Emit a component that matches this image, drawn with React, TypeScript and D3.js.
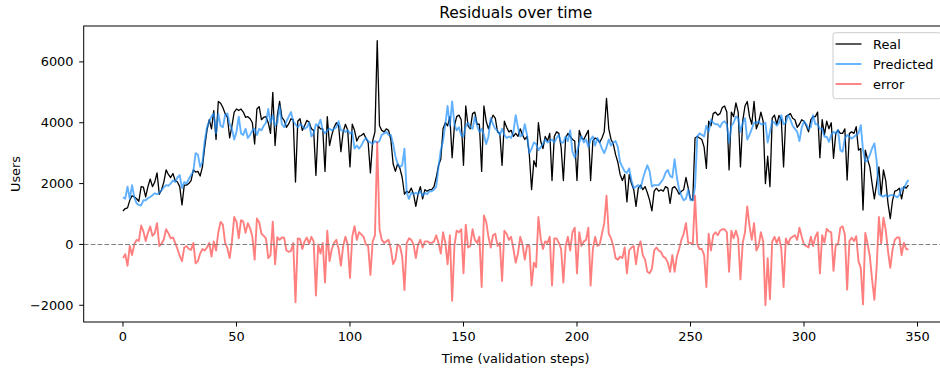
import React from 'react';
import * as d3 from 'd3';

// Values (validation step 0..346)
const realUsers: number[] = [
  1100, 1180, 1200, 1450, 1600, 1560, 1500, 1420, 1900, 1880,
  1560, 1900, 2150, 1900, 2050, 2350, 1650, 1800, 2050, 2450,
  2300, 2200, 2330, 2100, 2050, 1900, 1300, 1950, 1950, 2000,
  2100, 2450, 2380, 2400, 2250, 2550, 3200, 3750, 4100, 3800,
  4400, 3450, 4700, 4640, 4500, 4300, 4180, 3500, 3900, 4350,
  4450, 4400, 4450, 4350, 4180, 4200, 4130, 4000, 3300, 4450,
  4530, 4100, 4180, 4200, 4000, 3650, 5000, 3250, 4240, 4700,
  4180, 4075, 3850, 3960, 4130, 4100, 2050, 4050, 4130, 3750,
  3900, 4075, 4020, 3800, 3750, 2270, 3900, 3800, 3800, 2400,
  4200, 3250, 3600, 3850, 4000, 3900, 3050, 3700, 3950, 3750,
  2550, 3950, 3750, 3400, 3550, 3580, 3650, 3500, 3350, 2350,
  3400, 3700, 6700, 3900, 3750, 3700, 3800, 3750, 3450, 2650,
  2400, 2650, 2500, 2200, 1650, 1750, 1700, 1850, 1650, 1250,
  1650, 1900, 1500, 1800, 1750, 1800, 1800, 1900, 2200, 2600,
  2800, 3800, 4000, 3900, 4200, 2850, 3900, 4200, 4250, 4100,
  2600, 4550, 3900, 3800, 4300, 4350, 3950, 3950, 2400, 4550,
  4050, 3800, 4050, 4250, 4150, 3700, 3650, 2600, 4050, 3850,
  3700, 3750, 3550, 3650, 3550, 3800, 3600, 3450, 3550, 2950,
  1800, 2750, 2550, 4000, 3400, 3150, 3550, 3400, 3650, 2100,
  3550, 3700, 3650, 3200, 2100, 3500, 3650, 3550, 3450, 3400,
  2100, 3750, 3500, 3450, 3600, 3750, 2100, 3400, 3500, 3450,
  3350, 3500, 3700, 4800, 3800, 3450, 3300, 2950, 2700, 2300,
  2100, 2300, 1400, 2300, 2000, 1800, 1250, 1850, 1950, 1800,
  1900, 1700, 1450, 1100, 1750, 1850, 1750, 1800, 1750, 1900,
  1850, 1350, 1850, 1900, 1800, 1650, 1750, 1800, 2200, 1850,
  1500, 1450, 3500, 3550, 3500, 3450, 3200, 2500, 4050, 3900,
  4300, 4350, 4250, 4300, 4500, 4550, 4350, 2450, 4350, 4200,
  4650, 4350, 2550, 4050, 4550, 4700, 4200, 3950, 4700, 3800,
  4000, 4350, 4050, 2000, 2900, 1900, 4150, 4250, 3950, 4240,
  4100, 2550, 4200, 4250, 4300, 4150, 4100, 3850, 3950, 4100,
  4050, 3900, 3700, 4100, 4200, 4200, 4350, 2850, 4100, 3600,
  4050, 3800, 4000, 2830, 3650, 3760, 3650, 3650, 3800, 2115,
  3650, 3700, 3650, 3870, 3100, 3150, 1130, 3100, 2800, 2550,
  2000, 1500, 2000, 2550, 1620, 2450, 2100, 1350, 850, 1450,
  1750, 1780, 1850, 1500, 1900, 1850, 1950,
];

const predictedUsers: number[] = [
  1550, 1500, 1900, 1500, 1950, 1550, 1350, 1300, 1280, 1450,
  1450, 1520, 1560, 1620, 1680, 1650, 1700, 1780, 1880, 1950,
  1930, 2000, 2100, 2050, 2200, 2280, 1850, 2050, 2000, 2150,
  2280, 2400, 3000, 2950, 2550, 2700, 3400, 3850, 4050, 4200,
  4300, 3650, 4300, 3900, 3850, 4250, 4300, 3950, 3800, 3450,
  3700, 4200, 3650, 3600, 3800, 3500, 3600, 3750, 3800, 3600,
  3800, 3750, 3900, 4000, 4450, 4000, 4250, 3900, 4000, 4550,
  3950, 3850, 4050, 4200, 4350, 4050, 3950, 3850, 3950, 3900,
  3800, 3850, 4000, 3550, 3650, 3950, 3900, 4100, 3750, 3650,
  3750, 3800, 3750, 3800, 3850, 4050, 3750, 3750, 3700, 3750,
  3650, 3700, 3150, 3250, 3150, 3250, 3400, 3500, 3400, 3350,
  3300, 3400, 3350, 3400, 3600, 3650, 3700, 3600, 3600, 3300,
  2900, 2650, 2550, 2600, 3150, 1700, 1500, 1700, 1650, 1700,
  1650, 1750, 1600, 1700, 1650, 1750, 1750, 1800, 1900, 2550,
  3100, 3400, 3950, 4550, 3900, 4700, 3950, 3750, 3850, 3600,
  3550, 3900, 4000, 3850, 3800, 4200, 3900, 3700, 3800, 3600,
  3300, 3550, 4150, 3950, 3800, 3750, 3600, 3800, 3600, 3500,
  3550, 3500, 3700, 4250, 3850, 3550, 3600, 3950, 3600, 3000,
  3150, 3350, 3300, 3100, 3200, 3300, 3450, 3350, 3400, 3450,
  3350, 3500, 3600, 3350, 3350, 3550, 3400, 3750, 3050, 2850,
  3050, 3350, 3550, 3350, 3450, 3200, 3450, 3550, 3250, 3500,
  3350, 3150, 3000, 3200, 3450, 3250, 3350, 3400, 3200, 2700,
  2550, 2400, 2350, 2500, 2100, 1850, 1900, 1950, 1850, 2150,
  2400, 2600, 2400, 1900, 1950, 1950, 1950, 2050, 2150, 2350,
  2450, 2250, 2200, 2800, 2200, 1800, 1600, 1450, 1500, 1800,
  1450, 1450, 1900, 3550, 3650, 3600, 3550, 3900, 3700, 4100,
  4000, 3950, 3950, 3850, 4000, 4050, 3950, 3350, 3900, 4000,
  4200, 4150, 3700, 4000, 4150, 3450, 3600, 3800, 4000, 4000,
  4050, 3950, 3950, 4000, 3350, 3700, 4050, 4000, 3900, 4000,
  4250, 3950, 4000, 4250, 4100, 3900, 3800, 3700, 3400, 3850,
  4050, 3950, 3800, 3850, 4250, 3950, 3950, 3800, 3800, 3540,
  3540, 3370, 3600, 3700, 3650, 3760, 3100, 3050, 3480, 3600,
  3540, 3480, 3540, 3600, 3650, 3920, 3100, 2720, 2770, 2940,
  3160, 3320, 2750, 1650, 1600, 1570, 1620, 1570, 1620, 1620,
  1600, 1550, 1620, 1850, 1840, 2000, 2115,
];

const xTicks: number[] = [0, 50, 100, 150, 200, 250, 300, 350];
const yTicks: number[] = [-2000, 0, 2000, 4000, 6000];
const seriesNames: string[] = ['Real', 'Predicted', 'error'];

const W = 940;
const H = 369;
const AX = { left: 83.7, right: 947.7, top: 26, bottom: 322 };
const FONT = 'DejaVu Sans, sans-serif';
const COLORS = { real: '#000000', pred: '#1e90ff', err: '#ff0000' };

export default function App() {
  // residual = real - predicted (what the red "error" line shows)
  const errorUsers = realUsers.map((r, i) => r - predictedUsers[i]);

  const x = d3.scaleLinear().domain([-17.3, 363.3]).range([AX.left, AX.right]);
  const y = d3.scaleLinear().domain([-2550, 7180]).range([AX.bottom, AX.top]);

  const lineGen = d3
    .line<number>()
    .x((_, i) => x(i))
    .y((d) => y(d));

  const fmt = (v: number) => (v < 0 ? '\u2212' + Math.abs(v) : String(v));

  const legendItems = [
    { name: seriesNames[0], color: COLORS.real, opacity: 1 },
    { name: seriesNames[1], color: COLORS.pred, opacity: 0.7 },
    { name: seriesNames[2], color: COLORS.err, opacity: 0.5 },
  ];

  return (
    <svg
      width={W}
      height={H}
      style={{ position: 'absolute', left: 0, top: 0, background: '#fff' }}
      fontFamily={FONT}
    >
      <defs>
        <clipPath id="plotClip">
          <rect x={AX.left} y={AX.top} width={AX.right - AX.left} height={AX.bottom - AX.top} />
        </clipPath>
      </defs>
      <rect x={0} y={0} width={W} height={H} fill="#fff" />

      <g clipPath="url(#plotClip)">
        <path d={lineGen(realUsers) || ''} fill="none" stroke={COLORS.real} strokeWidth={1.3} strokeLinejoin="round" />
        <path
          d={lineGen(predictedUsers) || ''}
          fill="none"
          stroke={COLORS.pred}
          strokeOpacity={0.7}
          strokeWidth={1.9}
          strokeLinejoin="round"
        />
        <path
          d={lineGen(errorUsers) || ''}
          fill="none"
          stroke={COLORS.err}
          strokeOpacity={0.5}
          strokeWidth={1.9}
          strokeLinejoin="round"
        />
        <line
          x1={AX.left}
          x2={AX.right}
          y1={y(0)}
          y2={y(0)}
          stroke="#808080"
          strokeWidth={1.1}
          strokeDasharray="4.8,2.1"
        />
      </g>

      {/* spines */}
      <rect
        x={AX.left}
        y={AX.top}
        width={AX.right - AX.left}
        height={AX.bottom - AX.top}
        fill="none"
        stroke="#000"
        strokeWidth={1}
      />

      {/* x axis */}
      {xTicks.map((t) => (
        <g key={'x' + t}>
          <line x1={x(t)} x2={x(t)} y1={AX.bottom} y2={AX.bottom + 4.5} stroke="#000" strokeWidth={1} />
          <text x={x(t)} y={336.5} textAnchor="middle" dominantBaseline="central" fontSize={12.9} fill="#000">
            {fmt(t)}
          </text>
        </g>
      ))}
      {/* y axis */}
      {yTicks.map((t) => (
        <g key={'y' + t}>
          <line x1={AX.left - 4.5} x2={AX.left} y1={y(t)} y2={y(t)} stroke="#000" strokeWidth={1} />
          <text x={73.5} y={y(t)} textAnchor="end" dominantBaseline="central" fontSize={12.9} fill="#000">
            {fmt(t)}
          </text>
        </g>
      ))}

      <text x={(AX.left + AX.right) / 2} y={358} textAnchor="middle" dominantBaseline="central" fontSize={12.9} fill="#000">
        Time (validation steps)
      </text>
      <text
        transform={`translate(15,${(AX.top + AX.bottom) / 2}) rotate(-90)`}
        textAnchor="middle"
        dominantBaseline="central"
        fontSize={12.9}
        fill="#000"
      >
        Users
      </text>
      <text x={(AX.left + AX.right) / 2} y={12.5} textAnchor="middle" dominantBaseline="central" fontSize={15.5} fill="#000">
        Residuals over time
      </text>

      {/* legend */}
      <g>
        <rect x={833} y={32.7} width={108} height={66} rx={2.6} fill="#fff" fillOpacity={0.8} stroke="#cccccc" strokeWidth={1} />
        {legendItems.map((it, k) => (
          <g key={it.name}>
            <line
              x1={835.5}
              x2={861.5}
              y1={44 + k * 20}
              y2={44 + k * 20}
              stroke={it.color}
              strokeOpacity={it.opacity}
              strokeWidth={k === 0 ? 1.3 : 1.9}
            />
            <text x={873} y={44 + k * 20} dominantBaseline="central" fontSize={12.9} fill="#000">
              {it.name}
            </text>
          </g>
        ))}
      </g>
    </svg>
  );
}
